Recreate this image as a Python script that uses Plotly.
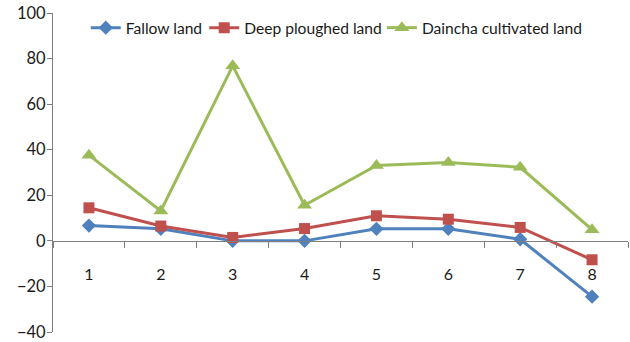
import plotly.graph_objects as go

# Sampling stations along the x axis
stations = ["1", "2", "3", "4", "5", "6", "7", "8"]

# Values per land-management treatment
fallow = [6.7, 5.3, 0.0, 0.0, 5.3, 5.3, 0.7, -24.5]
deep_ploughed = [14.5, 6.5, 1.5, 5.4, 11.0, 9.5, 5.9, -8.3]
daincha = [37.6, 13.1, 76.8, 15.6, 33.1, 34.4, 32.3, 4.9]

y_ticks = [-40, -20, 0, 20, 40, 60, 80, 100]

FONT = "Lato"
TEXT_COLOR = "#1a1a1a"
AXIS_COLOR = "#7f7f7f"
LEGEND_FONT = dict(family=FONT, size=15.6, color=TEXT_COLOR)

fig = go.Figure()
fig.add_trace(go.Scatter(
    x=stations, y=fallow, name="Fallow land", mode="lines+markers",
    line=dict(color="#4F81BD", width=3),
    marker=dict(symbol="diamond", size=11, color="#4F81BD"),
    legend="legend",
))
fig.add_trace(go.Scatter(
    x=stations, y=deep_ploughed, name="Deep ploughed land", mode="lines+markers",
    line=dict(color="#C0504D", width=3),
    marker=dict(symbol="square", size=11, color="#C0504D"),
    legend="legend2",
))
fig.add_trace(go.Scatter(
    x=stations, y=daincha, name="Daincha cultivated land", mode="lines+markers",
    line=dict(color="#9BBB59", width=3),
    marker=dict(symbol="triangle-up", size=13, color="#9BBB59"),
    legend="legend3",
))


def legend_box(x):
    return dict(
        orientation="h", x=x, y=0.953, xanchor="left", yanchor="middle",
        font=LEGEND_FONT, bgcolor="rgba(0,0,0,0)", itemwidth=30,
    )


y_min, y_max = -40, 100
fig.update_layout(
    width=630, height=342,
    margin=dict(l=53, r=2, t=13, b=10, autoexpand=False),
    paper_bgcolor="white", plot_bgcolor="white",
    font=dict(family=FONT, size=16, color=TEXT_COLOR),
    showlegend=True,
    legend=legend_box(0.057),
    legend2=legend_box(0.263),
    legend3=legend_box(0.572),
    xaxis=dict(
        type="category", categoryorder="array", categoryarray=stations,
        range=[-0.5, 7.5], automargin=False,
        anchor="free", position=(0 - y_min) / (y_max - y_min),
        showline=True, linecolor=AXIS_COLOR, linewidth=1,
        ticks="outside", ticklen=6, tickcolor=AXIS_COLOR, tickson="boundaries",
        ticklabelstandoff=19,
        showgrid=False, zeroline=False,
        tickfont=dict(family=FONT, size=16, color=TEXT_COLOR),
    ),
    yaxis=dict(
        range=[y_min, y_max], tickvals=y_ticks, automargin=False,
        showline=True, linecolor=AXIS_COLOR, linewidth=1,
        ticks="outside", ticklen=5, tickcolor=AXIS_COLOR,
        ticklabelstandoff=-2,
        showgrid=False, zeroline=False,
        tickfont=dict(family=FONT, size=16.5, color=TEXT_COLOR),
    ),
)

fig.write_html("out.html")
